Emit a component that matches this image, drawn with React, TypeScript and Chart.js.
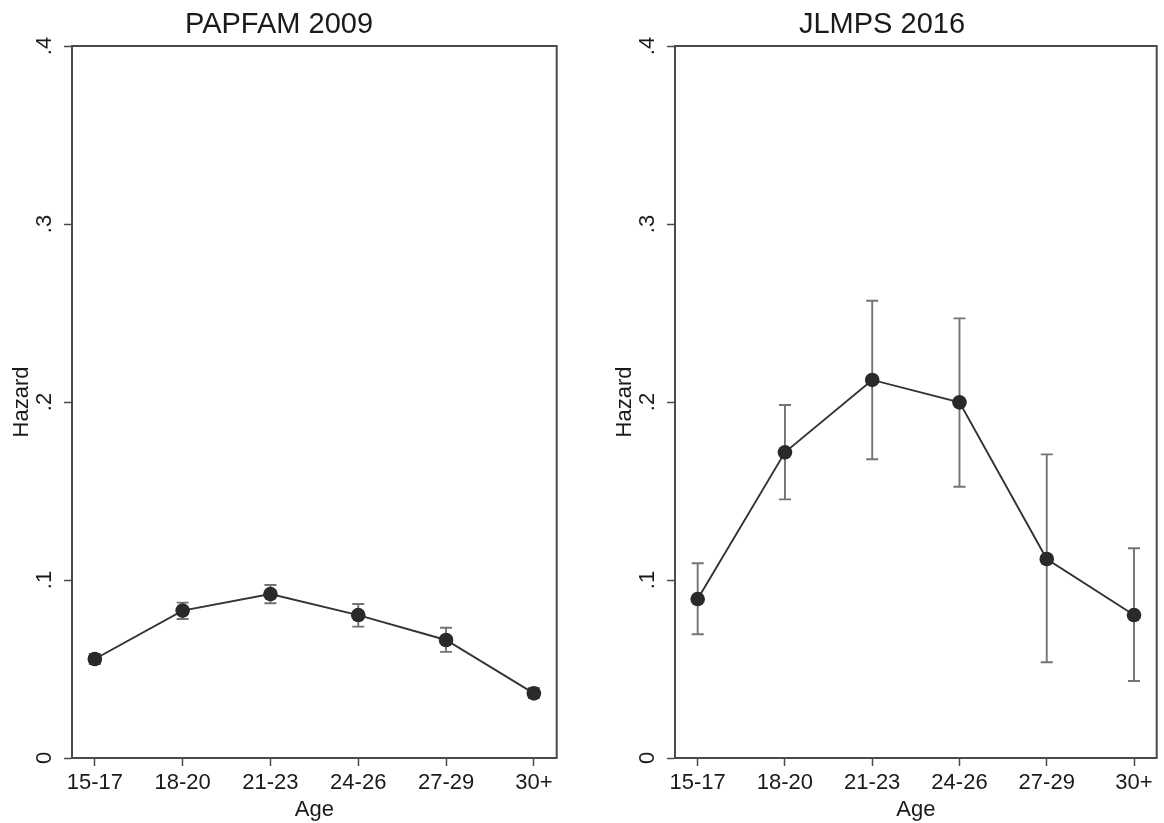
import React, { useEffect, useRef } from 'react';
import { Chart, registerables } from 'chart.js';

Chart.register(...registerables);

const ageLabels = ['15-17', '18-20', '21-23', '24-26', '27-29', '30+'];
const yTicks = [0, 0.1, 0.2, 0.3, 0.4];

const papfamHazard = [0.0556, 0.0828, 0.0921, 0.0803, 0.0663, 0.0363];
const papfamLow = [0.0528, 0.0781, 0.0869, 0.0738, 0.0596, 0.0337];
const papfamHigh = [0.0584, 0.0873, 0.0972, 0.0865, 0.0732, 0.0393];

const jlmpsHazard = [0.0893, 0.1717, 0.2124, 0.1998, 0.1118, 0.0803];
const jlmpsLow = [0.0695, 0.1453, 0.1678, 0.1524, 0.0538, 0.0433];
const jlmpsHigh = [0.1094, 0.1983, 0.2569, 0.247, 0.1706, 0.1178];

const FONT = "'Liberation Sans', Arial, Helvetica, sans-serif";
const TEXT = '#1a1a1a';
const AXIS = '#4a4a4a';

function fmtY(v: number) {
  if (Math.abs(v) < 1e-9) return '0';
  return v.toFixed(1).replace(/^0/, '');
}

type PanelProps = {
  title: string;
  hazard: number[];
  low: number[];
  high: number[];
  left: number;
  width: number;
  padRight: number;
};

function HazardPanel({ title, hazard, low, high, left, width, padRight }: PanelProps) {
  const ref = useRef<HTMLCanvasElement>(null);
  useEffect(() => {
    if (!ref.current) return;
    const frame = {
      id: 'frame',
      beforeDatasetsDraw(chart: any) {
        const { ctx, chartArea: a, scales } = chart;
        ctx.save();
        ctx.strokeStyle = AXIS;
        ctx.lineWidth = 2;
        ctx.strokeRect(a.left, a.top, a.right - a.left, a.bottom - a.top);
        // error bars
        const xs = scales.x;
        const ys = scales.y;
        ctx.strokeStyle = '#747474';
        ctx.lineWidth = 1.9;
        for (let i = 0; i < hazard.length; i++) {
          const x = xs.getPixelForValue(i);
          const yl = ys.getPixelForValue(low[i]);
          const yh = ys.getPixelForValue(high[i]);
          ctx.beginPath();
          ctx.moveTo(x, yl);
          ctx.lineTo(x, yh);
          ctx.moveTo(x - 6, yl);
          ctx.lineTo(x + 6, yl);
          ctx.moveTo(x - 6, yh);
          ctx.lineTo(x + 6, yh);
          ctx.stroke();
        }
        ctx.restore();
      },
    };
    const chart = new Chart(ref.current, {
      type: 'scatter',
      data: {
        datasets: [
          {
            data: hazard.map((v, i) => ({ x: i, y: v })),
            showLine: true,
            borderColor: '#333333',
            borderWidth: 1.9,
            pointRadius: 7.3,
            pointBackgroundColor: '#2a2a2a',
            pointBorderColor: '#2a2a2a',
            pointBorderWidth: 0,
          },
        ],
      },
      options: {
        responsive: false,
        animation: false,
        layout: { padding: { left: 0, right: padRight, top: 0, bottom: 0 } },
        plugins: {
          legend: { display: false },
          tooltip: { enabled: false },
          title: {
            display: true,
            text: title,
            color: TEXT,
            font: { family: FONT, size: 29, weight: 'normal' },
            padding: { top: 8, bottom: 3.2 },
          },
        },
        scales: {
          x: {
            type: 'linear',
            min: -0.26,
            max: 5.26,
            afterBuildTicks: (s: any) => {
              s.ticks = ageLabels.map((_, i) => ({ value: i }));
            },
            afterFit: (s: any) => {
              s.height = 65;
            },
            ticks: {
              callback: (v: any) => ageLabels[Math.round(Number(v))] ?? '',
              color: TEXT,
              font: { family: FONT, size: 22 },
              padding: 4,
              maxRotation: 0,
              minRotation: 0,
              autoSkip: false,
            },
            grid: {
              display: true,
              drawOnChartArea: false,
              drawTicks: true,
              tickLength: 8,
              tickColor: AXIS,
              tickWidth: 1.5,
            },
            border: { display: true, color: AXIS, width: 2 },
            title: {
              display: true,
              text: 'Age',
              color: TEXT,
              font: { family: FONT, size: 22 },
              padding: { top: 0, bottom: 0 },
            },
          },
          y: {
            type: 'linear',
            min: 0,
            max: 0.4,
            afterBuildTicks: (s: any) => {
              s.ticks = yTicks.map((v) => ({ value: v }));
            },
            afterFit: (s: any) => {
              s.width = 72;
            },
            ticks: {
              callback: (v: any) => fmtY(Number(v)),
              color: TEXT,
              font: { family: FONT, size: 22 },
              minRotation: 90,
              maxRotation: 90,
              crossAlign: 'center',
              padding: 10,
            },
            grid: {
              display: true,
              drawOnChartArea: false,
              drawTicks: true,
              tickLength: 8,
              tickColor: AXIS,
              tickWidth: 1.5,
            },
            border: { display: true, color: AXIS, width: 2 },
            title: {
              display: true,
              text: 'Hazard',
              color: TEXT,
              font: { family: FONT, size: 22 },
              padding: { top: 9, bottom: 0 },
            },
          },
        },
      },
      plugins: [frame],
    } as any);
    return () => chart.destroy();
  }, [title, hazard, low, high, padRight]);
  return (
    <canvas
      ref={ref}
      width={width}
      height={823}
      style={{ position: 'absolute', left, top: 0, width, height: 823 }}
    />
  );
}

export default function App() {
  return (
    <div
      style={{
        position: 'fixed',
        left: 0,
        top: 0,
        width: 1164,
        height: 823,
        background: '#ffffff',
        overflow: 'hidden',
      }}
    >
      <HazardPanel
        title="PAPFAM 2009"
        hazard={papfamHazard}
        low={papfamLow}
        high={papfamHigh}
        left={0}
        width={564}
        padRight={6}
      />
      <HazardPanel
        title="JLMPS 2016"
        hazard={jlmpsHazard}
        low={jlmpsLow}
        high={jlmpsHigh}
        left={603}
        width={561}
        padRight={3}
      />
    </div>
  );
}
